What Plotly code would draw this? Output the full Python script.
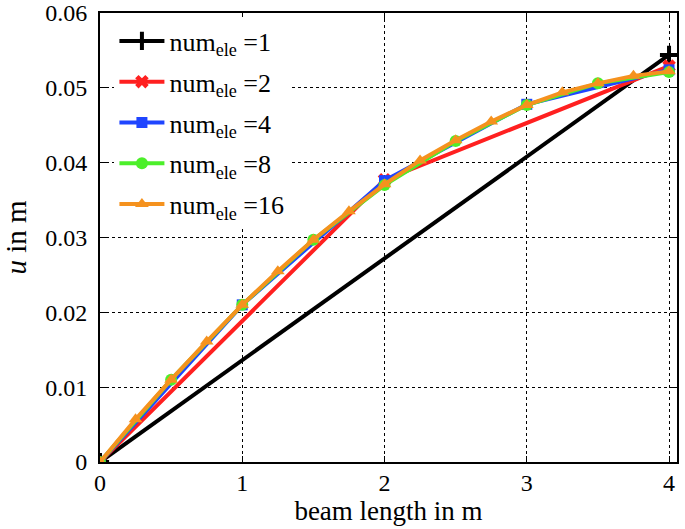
import plotly.graph_objects as go

x1 = [0, 4]
u1 = [0, 0.0544]
x2 = [0, 2, 4]
u2 = [0, 0.0377, 0.0529]
x4 = [0, 1, 2, 3, 4]
u4 = [0, 0.0210, 0.0376, 0.0478, 0.0524]
x8 = [0, 0.5, 1, 1.5, 2, 2.5, 3, 3.5, 4]
u8 = [0, 0.0110, 0.0210, 0.0297, 0.0370, 0.0429, 0.0477, 0.0506, 0.0521]
x16 = [0, 0.25, 0.5, 0.75, 1, 1.25, 1.5, 1.75, 2, 2.25, 2.5, 2.75, 3, 3.25, 3.5, 3.75, 4]
u16 = [0, 0.0057, 0.0110, 0.0161, 0.0210, 0.0255, 0.0297, 0.0335, 0.0371, 0.0403,
       0.0430, 0.0455, 0.0477, 0.0494, 0.0506, 0.0516, 0.0522]

names = ["num<sub>ele</sub> =1", "num<sub>ele</sub> =2", "num<sub>ele</sub> =4",
         "num<sub>ele</sub> =8", "num<sub>ele</sub> =16"]
xs = [x1, x2, x4, x8, x16]
us = [u1, u2, u4, u8, u16]
colors = ["#000000", "#ff2020", "#1f45ff", "#4cef2a", "#f5921e"]
symbols = ["cross-thin", "x", "square", "circle", "triangle-up"]
sizes = [13, 12, 11, 12, 12]

fig = go.Figure()
for i in range(5):
    sym = symbols[i]
    mk = dict(symbol=sym, size=sizes[i], color=colors[i])
    if sym == "cross-thin":
        mk["line"] = dict(width=4, color=colors[i])
    fig.add_trace(go.Scatter(
        x=xs[i], y=us[i], mode="lines+markers", name=names[i],
        legendgroup=str(i),
        line=dict(color=colors[i], width=4),
        marker=mk,
    ))

font_family = "Liberation Serif"
fig.update_layout(
    width=685, height=529,
    paper_bgcolor="white", plot_bgcolor="white",
    margin=dict(l=100, r=8, t=13, b=67),
    font=dict(family=font_family, size=23, color="black"),
    showlegend=True,
    legend=dict(x=0.025, y=0.99, xanchor="left", yanchor="top",
                bgcolor="white", borderwidth=0, tracegroupgap=4,
                itemwidth=45, font=dict(size=26, family=font_family)),
)
fig.update_xaxes(
    range=[0, 4.056], tickvals=[0, 1, 2, 3, 4], ticktext=["0", "1", "2", "3", "4"],
    showgrid=True, gridcolor="black", griddash="dot", gridwidth=1,
    showline=True, linecolor="black", linewidth=2, mirror="ticks",
    ticks="inside", ticklen=6, tickcolor="black", zeroline=False,
    automargin=False, ticklabelstandoff=-2, ticklabeloverflow="allow",
    title=dict(text="beam length in m", font=dict(size=27), standoff=0),
    tickfont=dict(size=24),
)
fig.update_yaxes(
    range=[0, 0.06], tickvals=[0, 0.01, 0.02, 0.03, 0.04, 0.05, 0.06],
    ticktext=["0", "0.01", "0.02", "0.03", "0.04", "0.05", "0.06"],
    showgrid=True, gridcolor="black", griddash="dot", gridwidth=1,
    showline=True, linecolor="black", linewidth=2, mirror="ticks",
    ticks="inside", ticklen=6, tickcolor="black", zeroline=False,
    automargin=False, ticklabelstandoff=6, ticklabeloverflow="allow",
    title=dict(text="<i>u</i> in m", font=dict(size=29), standoff=16),
    tickfont=dict(size=24),
)
fig.write_html("out.html", config={"displayModeBar": False},
               post_script="document.body.style.margin='0';")
